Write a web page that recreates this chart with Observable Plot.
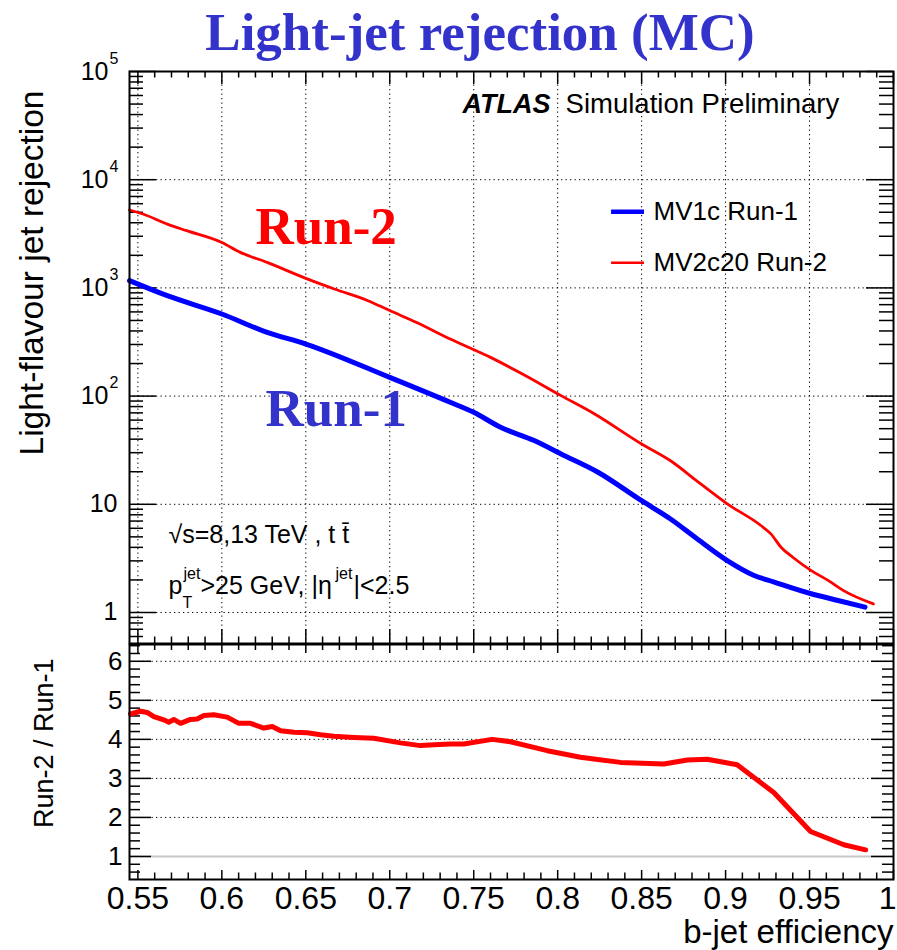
<!DOCTYPE html>
<html>
<head>
<meta charset="utf-8">
<script src="https://cdn.jsdelivr.net/npm/d3@7"></script>
<script src="https://cdn.jsdelivr.net/npm/@observablehq/plot@0.6"></script>
<style>
html, body { margin: 0; padding: 0; background: #fff; }
#wrap { position: relative; width: 897px; height: 950px; overflow: hidden; background: #fff; }
#title { position: absolute; left: 0; top: 6px; width: 960px; text-align: center;
  font: bold 53px "Liberation Serif", "Times New Roman", serif; line-height: 1; color: #3333cc; }
.panel { position: absolute; left: 0; }
</style>
</head>
<body>
<div id="wrap"><div id="title">Light-jet rejection (MC)</div></div>
<script>
// ---------------- data ----------------
const effRun1 = [0.545, 0.5675, 0.600, 0.627, 0.650, 0.700, 0.736, 0.750, 0.766, 0.786, 0.802, 0.824, 0.850, 0.867, 0.883, 0.901, 0.917, 0.929, 0.951, 0.967, 0.983];
const rejRun1 = [1167, 847, 574, 388, 303, 149, 87.7, 70.8, 51.5, 38.8, 29.2, 19.8, 10.8, 7.35, 4.80, 3.02, 2.20, 1.91, 1.49, 1.29, 1.12];

const effRun2 = [0.545, 0.553, 0.5675, 0.579, 0.600, 0.611, 0.627, 0.650, 0.667, 0.687, 0.700, 0.716, 0.736, 0.760, 0.779, 0.802, 0.822, 0.850, 0.867, 0.885, 0.901, 0.921, 0.927, 0.933, 0.940, 0.951, 0.961, 0.970, 0.988];
const rejRun2 = [5250, 4820, 3890, 3380, 2630, 2130, 1720, 1225, 977, 762, 617, 479, 337, 228, 160, 101, 68.4, 36.1, 25.4, 15.5, 10.1, 6.37, 5.33, 4.01, 3.24, 2.44, 1.98, 1.60, 1.20];

const effRatio = [0.5456, 0.5516, 0.5555, 0.5595, 0.5654, 0.5684, 0.5714, 0.5754, 0.5813, 0.5853, 0.5893, 0.5952, 0.6032, 0.6101, 0.6171, 0.625, 0.630, 0.635, 0.6429, 0.6508, 0.6588, 0.6667, 0.6786, 0.6905, 0.7064, 0.7183, 0.7262, 0.7362, 0.7441, 0.761, 0.7719, 0.7938, 0.8136, 0.8374, 0.8632, 0.8772, 0.8891, 0.9069, 0.9287, 0.9506, 0.9704, 0.9834];
const ratioRun2Run1 = [4.65, 4.72, 4.69, 4.58, 4.50, 4.44, 4.51, 4.41, 4.51, 4.52, 4.61, 4.63, 4.57, 4.41, 4.41, 4.29, 4.33, 4.22, 4.18, 4.17, 4.12, 4.08, 4.05, 4.03, 3.91, 3.84, 3.86, 3.88, 3.88, 4.00, 3.94, 3.71, 3.54, 3.41, 3.37, 3.47, 3.49, 3.35, 2.64, 1.64, 1.30, 1.17];

// axes / ticks
const xDomain = [0.545, 1.0];
const yDomainTop = [0.517, 1e5];
const yDomainRatio = [0.41, 6.43];
const xMajor = [0.55, 0.6, 0.65, 0.7, 0.75, 0.8, 0.85, 0.9, 0.95, 1.0];
const xTickLabels = ["0.55", "0.6", "0.65", "0.7", "0.75", "0.8", "0.85", "0.9", "0.95", "1"];
const yMajorTop = [1, 10, 100, 1000, 10000, 100000];
const yPlainTop = [1, 10];
const yPlainTopLabels = ["1", "10"];
const yPowTop = [100, 1000, 10000, 100000];
const yPowTopExp = ["2", "3", "4", "5"];
const yMajorRatio = [1, 2, 3, 4, 5, 6];
const yRatioLabels = ["1", "2", "3", "4", "5", "6"];

// labels / legend
const legendText = ["MV1c Run-1", "MV2c20 Run-2"];
const legendColor = ["#0000ff", "#ff0000"];
const legendWidth = [4.5, 2.5];
const legendY = [5058, 1710];
const legendX = [0.8321, 0.8517, 0.8571]; // line start, line end, text start
const bigLabelText = ["Run-2", "Run-1"];
const bigLabelColor = ["#ff0000", "#3333cc"];
const bigLabelX = [0.620, 0.626];
const bigLabelY = [2560, 53.4];
const atlasX = [0.7433, 0.8047];
const atlasY = 41560;
const atlasText = ["ATLAS", "Simulation Preliminary"];
const annotX = 0.5682;
const annotY = [4.43, 1.498];

// ---------------- layout ----------------
const FONT = "'Liberation Sans', Arial, Helvetica, sans-serif";
const SERIF = "'Liberation Serif', 'Times New Roman', serif";
const W = 897, mL = 129, mR = 4, fW = W - mL - mR;
const H1 = 660, mT1 = 71, mB1 = 17, fH1 = H1 - mT1 - mB1;
const H2 = 320, mT2 = 14, mB2 = 71, fH2 = H2 - mT2 - mB2;
const TOP2 = 630;
const dotted = {stroke: "#000", strokeWidth: 1, strokeDasharray: "1.3,3.2"};
const tk = {stroke: "#000", strokeWidth: 1.5};

const xMinor = d3.range(55, 101).filter(i => i % 5 !== 0).map(i => i / 100);
const yMinorTop = [];
for (let k = -1; k <= 4; k++) for (let m = 2; m <= 9; m++) {
  const v = m * Math.pow(10, k);
  if (v >= yDomainTop[0] && v <= yDomainTop[1]) yMinorTop.push(v);
}
const yMinorRatio = d3.range(3, 33).filter(i => i % 5 !== 0).map(i => i / 5);

function frameTicks(yMaj, yMin, fH, L) {
  return [
    Plot.tickX(xMajor, {x: d => d, insetBottom: fH - L.tMaj, ...tk}),
    Plot.tickX(xMinor, {x: d => d, insetBottom: fH - L.tMin, ...tk}),
    Plot.tickX(xMajor, {x: d => d, insetTop: fH - L.bMaj, ...tk}),
    Plot.tickX(xMinor, {x: d => d, insetTop: fH - L.bMin, ...tk}),
    Plot.tickY(yMaj, {y: d => d, insetRight: fW - L.yMaj, ...tk}),
    Plot.tickY(yMin, {y: d => d, insetRight: fW - L.yMin, ...tk}),
    Plot.tickY(yMaj, {y: d => d, insetLeft: fW - L.yMaj, ...tk}),
    Plot.tickY(yMin, {y: d => d, insetLeft: fW - L.yMin, ...tk})
  ];
}

const run1 = effRun1.map((e, i) => ({eff: e, rej: rejRun1[i]}));
const run2 = effRun2.map((e, i) => ({eff: e, rej: rejRun2[i]}));
const ratio = effRatio.map((e, i) => ({eff: e, r: ratioRun2Run1[i]}));
const legend = legendText.map((t, i) => ({t, c: legendColor[i], w: legendWidth[i], y: legendY[i]}));
const bigLabels = bigLabelText.map((t, i) => ({t, c: bigLabelColor[i], x: bigLabelX[i], y: bigLabelY[i]}));

// ---------------- top panel ----------------
const topPlot = Plot.plot({
  width: W, height: H1,
  marginTop: mT1, marginBottom: mB1, marginLeft: mL, marginRight: mR,
  x: {type: "linear", domain: xDomain, axis: null},
  y: {type: "log", domain: yDomainTop, axis: null},
  style: {background: "transparent", overflow: "visible", fontFamily: FONT, color: "#000"},
  marks: [
    Plot.ruleX(xMajor.filter(d => d < 1), {x: d => d, ...dotted}),
    Plot.ruleY(yMajorTop.filter(d => d < 1e5), {y: d => d, ...dotted}),
    ...frameTicks(yMajorTop, yMinorTop, fH1, {tMaj: 13, tMin: 6.5, bMaj: 14, bMin: 6.5, yMaj: 27, yMin: 14}),
    Plot.line(run2, {x: "eff", y: "rej", stroke: "#ff0000", strokeWidth: 2.8, curve: "monotone-x"}),
    Plot.line(run1, {x: "eff", y: "rej", stroke: "#0000ff", strokeWidth: 5, curve: "monotone-x"}),
    Plot.frame({stroke: "#000", strokeWidth: 2}),
    // y tick labels
    Plot.text(yPlainTop, {y: d => d, frameAnchor: "left", text: (d, i) => yPlainTopLabels[i], textAnchor: "end", dx: -12, fontSize: 25}),
    Plot.text(yPowTop, {y: d => d, frameAnchor: "left", text: () => "10", textAnchor: "end", dx: -21, fontSize: 25}),
    Plot.text(yPowTop, {y: d => d, frameAnchor: "left", text: (d, i) => yPowTopExp[i], textAnchor: "start", dx: -20, dy: -13, fontSize: 16}),
    // y title
    Plot.text(["Light-flavour jet rejection"], {frameAnchor: "top-left", text: d => d, rotate: -90, textAnchor: "end", lineAnchor: "bottom", dx: -87, dy: 19, fontSize: 33.5}),
    // ATLAS label
    Plot.text([atlasText[0]], {x: atlasX[0], y: atlasY, text: d => d, textAnchor: "start", lineAnchor: "bottom", fontSize: 27, fontWeight: "bold", fontStyle: "italic"}),
    Plot.text([atlasText[1]], {x: atlasX[1], y: atlasY, text: d => d, textAnchor: "start", lineAnchor: "bottom", fontSize: 27.5}),
    // legend
    Plot.ruleY(legend, {y: "y", x1: legendX[0], x2: legendX[1], stroke: "c", strokeWidth: "w"}),
    Plot.text(legend, {x: legendX[2], y: "y", text: "t", textAnchor: "start", fontSize: 26}),
    // big Run labels
    Plot.text(bigLabels, {x: "x", y: "y", text: "t", fill: "c", textAnchor: "start", lineAnchor: "bottom", fontSize: 53, fontWeight: "bold", fontFamily: SERIF}),
    // annotation line 1
    Plot.text(["\u221As=8,13 TeV , t t\u0304"], {x: annotX, y: annotY[0], text: d => d, textAnchor: "start", lineAnchor: "bottom", fontSize: 25}),
    // annotation line 2
    Plot.text(["p"], {x: annotX, y: annotY[1], text: d => d, textAnchor: "start", lineAnchor: "bottom", fontSize: 25}),
    Plot.text(["T"], {x: annotX, y: annotY[1], text: d => d, textAnchor: "start", lineAnchor: "bottom", dx: 14, dy: 14, fontSize: 16}),
    Plot.text(["jet"], {x: annotX, y: annotY[1], text: d => d, textAnchor: "start", lineAnchor: "bottom", dx: 15, dy: -15, fontSize: 16}),
    Plot.text([">25 GeV, |\u03B7"], {x: annotX, y: annotY[1], text: d => d, textAnchor: "start", lineAnchor: "bottom", dx: 32, fontSize: 25}),
    Plot.text(["jet"], {x: annotX, y: annotY[1], text: d => d, textAnchor: "start", lineAnchor: "bottom", dx: 167, dy: -15, fontSize: 16}),
    Plot.text(["|<2.5"], {x: annotX, y: annotY[1], text: d => d, textAnchor: "start", lineAnchor: "bottom", dx: 185, fontSize: 25})
  ]
});

// ---------------- ratio panel ----------------
const xInner = xMajor.slice(0, -1);
const xLast = xMajor.slice(-1);
const bottomPlot = Plot.plot({
  width: W, height: H2,
  marginTop: mT2, marginBottom: mB2, marginLeft: mL, marginRight: mR,
  x: {type: "linear", domain: xDomain, axis: null},
  y: {type: "linear", domain: yDomainRatio, axis: null},
  style: {background: "transparent", overflow: "visible", fontFamily: FONT, color: "#000"},
  marks: [
    Plot.ruleY(yMajorRatio.filter(d => d > 1), {y: d => d, ...dotted}),
    Plot.ruleY([1], {y: d => d, stroke: "#c8c8c8", strokeWidth: 2}),
    ...frameTicks(yMajorRatio, yMinorRatio, fH2, {tMaj: 9, tMin: 6, bMaj: 9, bMin: 6.5, yMaj: 22, yMin: 11}),
    Plot.line(ratio, {x: "eff", y: "r", stroke: "#ff0000", strokeWidth: 5}),
    Plot.frame({stroke: "#000", strokeWidth: 2}),
    Plot.text(yMajorRatio, {y: d => d, frameAnchor: "left", text: (d, i) => yRatioLabels[i], textAnchor: "end", dx: -7, fontSize: 26}),
    Plot.text(xInner, {x: d => d, frameAnchor: "bottom", text: (d, i) => xTickLabels[i], textAnchor: "middle", lineAnchor: "bottom", dy: 29, fontSize: 32}),
    Plot.text(xLast, {x: d => d, frameAnchor: "bottom", text: () => xTickLabels[xTickLabels.length - 1], textAnchor: "end", lineAnchor: "bottom", dx: 3, dy: 29, fontSize: 32}),
    Plot.text(["b-jet efficiency"], {frameAnchor: "bottom-right", text: d => d, textAnchor: "end", lineAnchor: "bottom", dy: 63, fontSize: 33}),
    Plot.text(["Run-2 / Run-1"], {frameAnchor: "top-left", text: d => d, rotate: -90, textAnchor: "end", lineAnchor: "bottom", dx: -77, dy: 14, fontSize: 27})
  ]
});

const wrap = document.getElementById("wrap");
const p1 = document.createElement("div"); p1.className = "panel"; p1.style.top = "0px"; p1.appendChild(topPlot);
const p2 = document.createElement("div"); p2.className = "panel"; p2.style.top = TOP2 + "px"; p2.appendChild(bottomPlot);
wrap.appendChild(p1);
wrap.appendChild(p2);
</script>
</body>
</html>
